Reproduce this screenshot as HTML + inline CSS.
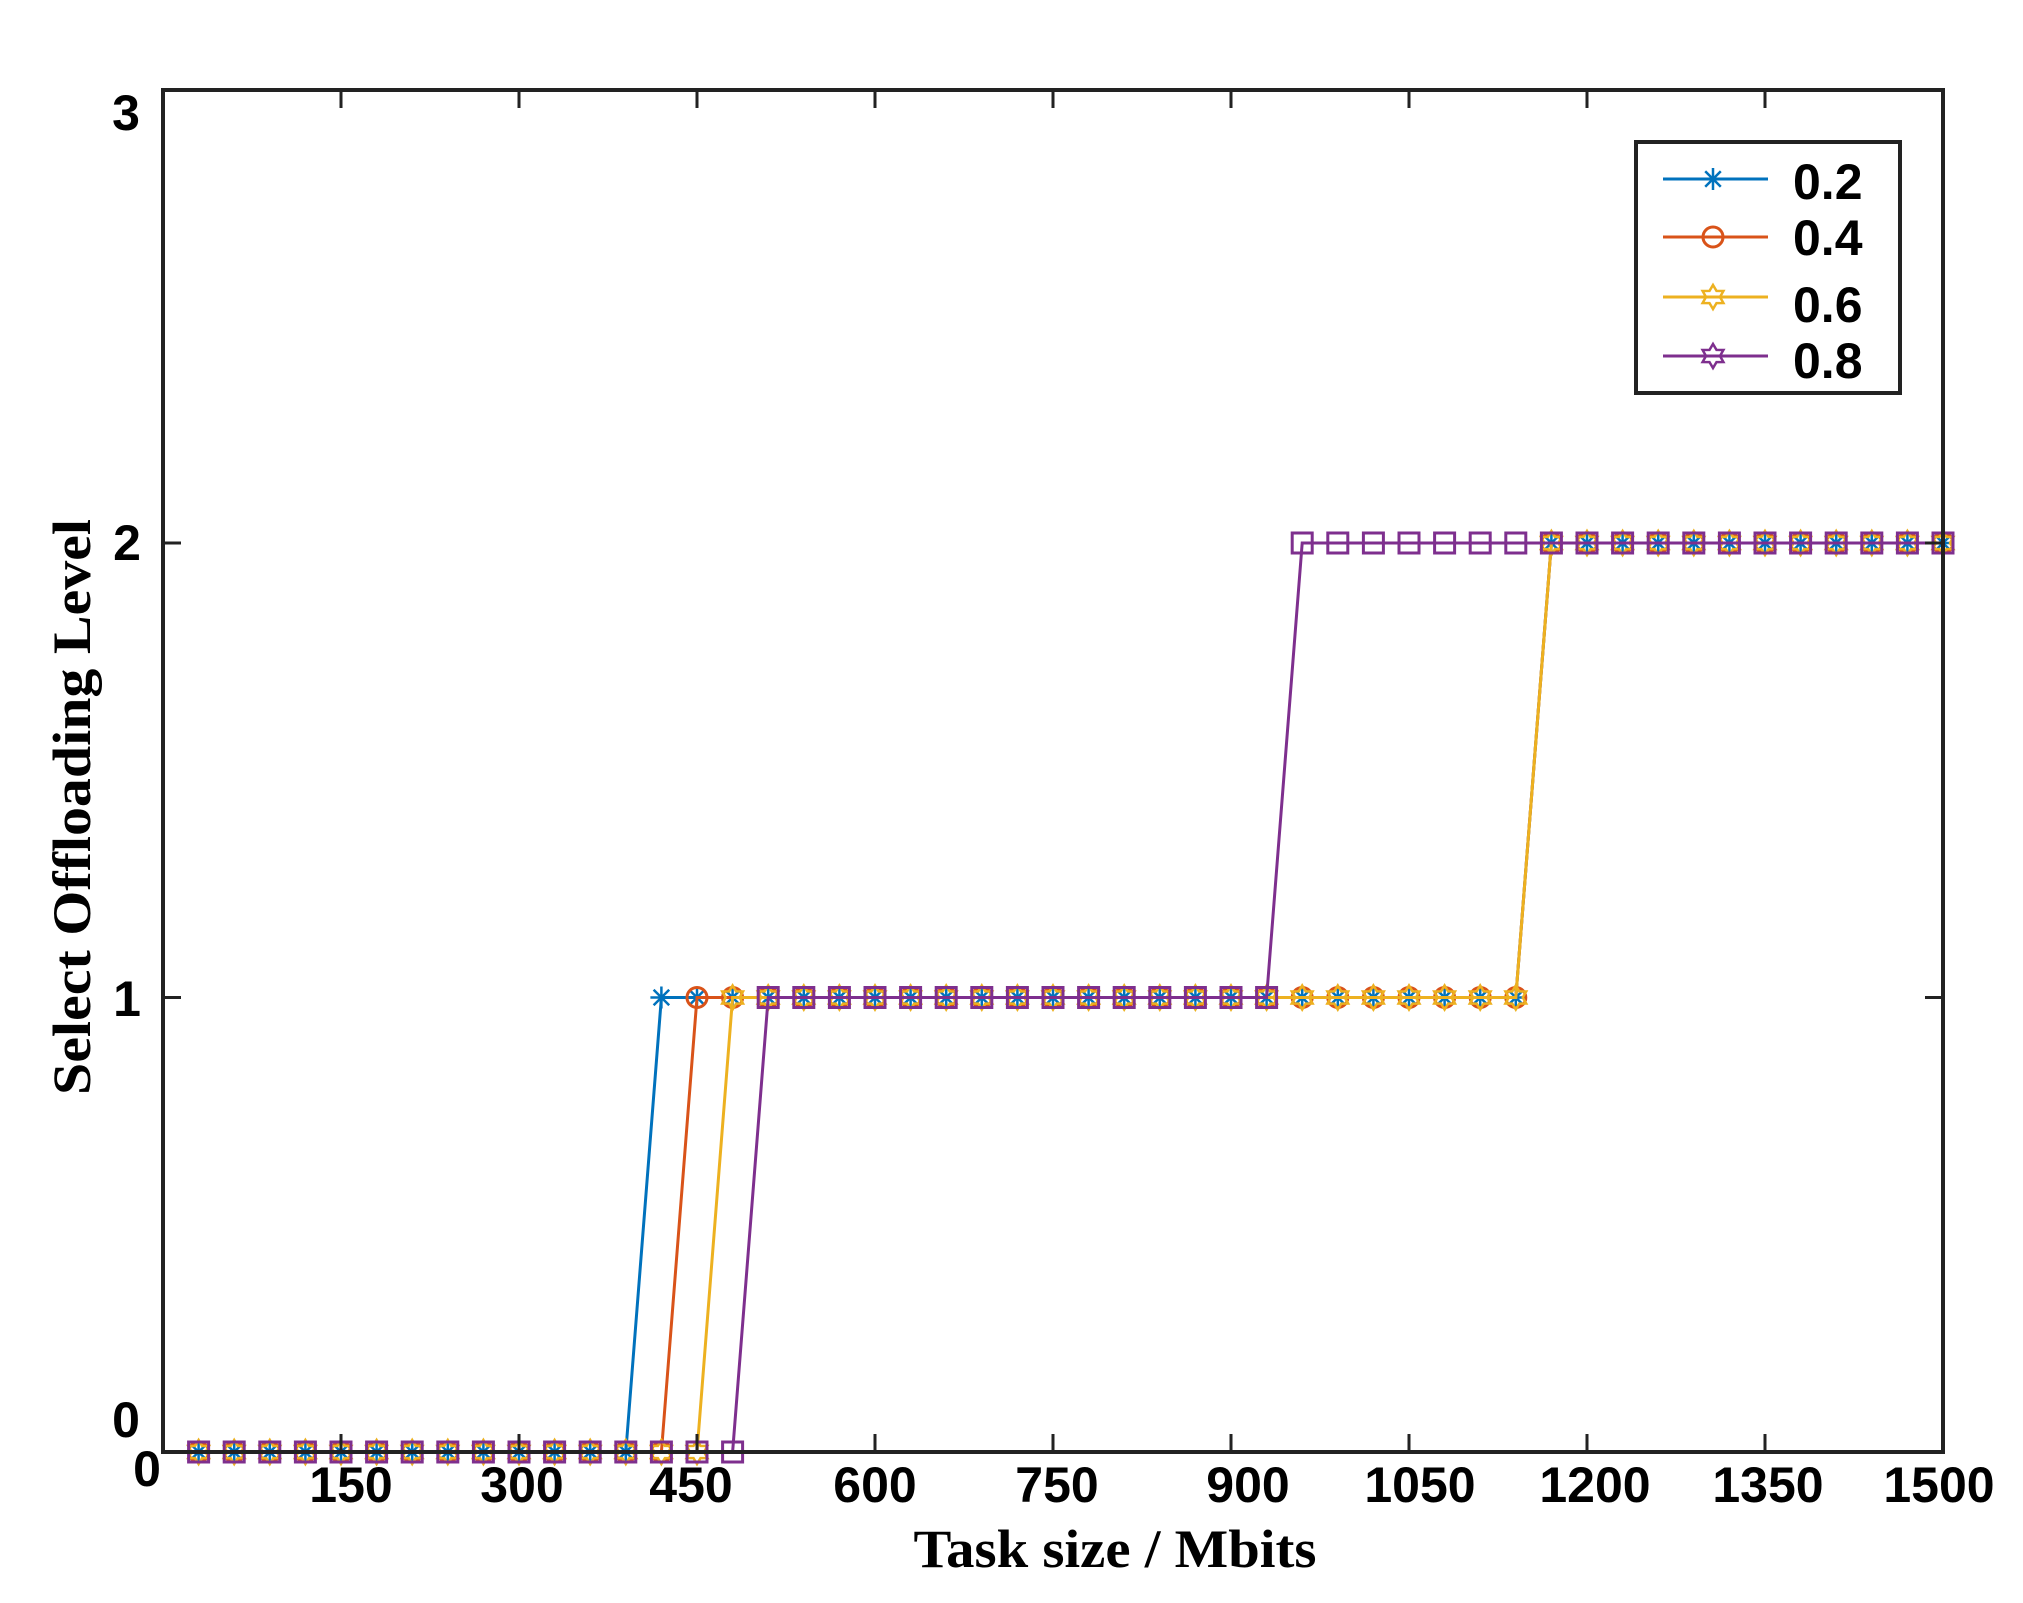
<!DOCTYPE html>
<html><head><meta charset="utf-8"><style>
html,body{margin:0;padding:0;background:#fff}
svg{display:block}
.t{font-family:"Liberation Sans",sans-serif;font-weight:bold;font-size:50px;fill:#000}
.s{font-family:"Liberation Serif",serif;font-weight:bold;font-size:54px;fill:#000}
</style></head><body>
<svg id="c" width="2023" height="1603" viewBox="0 0 2023 1603" xmlns="http://www.w3.org/2000/svg">
<rect width="2023" height="1603" fill="#fff"/>
<g id="series"></g>
<rect x="163" y="90" width="1780" height="1362" fill="none" stroke="#222" stroke-width="4"/>
<g id="ticks" stroke="#222" stroke-width="3"></g>
<g class="t" text-anchor="middle">
<text x="126" y="130">3</text>
<text x="127" y="560">2</text>
<text x="127" y="1016">1</text>
<text x="126" y="1437">0</text>
<text x="147" y="1486">0</text>
<text x="351" y="1502">150</text>
<text x="522" y="1502">300</text>
<text x="691" y="1502">450</text>
<text x="875" y="1502">600</text>
<text x="1057" y="1502">750</text>
<text x="1248" y="1502">900</text>
<text x="1420" y="1502">1050</text>
<text x="1595" y="1502">1200</text>
<text x="1768" y="1502">1350</text>
<text x="1939" y="1502">1500</text>
</g>
<text class="s" x="1115" y="1567" text-anchor="middle" textLength="403" lengthAdjust="spacingAndGlyphs">Task size / Mbits</text>
<text class="s" transform="translate(90,807) rotate(-90)" text-anchor="middle" textLength="576" lengthAdjust="spacingAndGlyphs">Select Offloading Level</text>
<rect x="1636" y="142" width="264" height="251" fill="#fff" stroke="#222" stroke-width="4"/>
<g id="leg"></g>
<g class="t">
<text x="1793" y="199">0.2</text>
<text x="1793" y="255">0.4</text>
<text x="1793" y="322">0.6</text>
<text x="1793" y="378">0.8</text>
</g>
</svg>
<script>
var NS="http://www.w3.org/2000/svg";
function X(v){return 163+v*1780/1500}
function Y(v){return 1452-v*454.5}
function el(p,n,a){var e=document.createElementNS(NS,n);for(var k in a)e.setAttribute(k,a[k]);p.appendChild(e);return e}
var tk=document.getElementById('ticks');
for(var v=150;v<1500;v+=150){el(tk,'line',{x1:X(v),y1:1452,x2:X(v),y2:1434});el(tk,'line',{x1:X(v),y1:90,x2:X(v),y2:108});}
[1,2].forEach(function(v){el(tk,'line',{x1:163,y1:Y(v),x2:181,y2:Y(v)});el(tk,'line',{x1:1943,y1:Y(v),x2:1925,y2:Y(v)});});
function lev(x,a,b){return x>=b?2:(x>=a?1:0)}
var S=[{c:'#0072BD',a:420,b:1170,m:'star'},{c:'#D95319',a:450,b:1170,m:'circ'},{c:'#EDB120',a:480,b:1170,m:'hex'},{c:'#7E2F8E',a:510,b:960,m:'sq'}];
var g=document.getElementById('series');
function marker(p,m,x,y,c){
 if(m=='star'){[0,45,90,135].forEach(function(an){var r=an*Math.PI/180;el(p,'line',{x1:x-11*Math.cos(r),y1:y-11*Math.sin(r),x2:x+11*Math.cos(r),y2:y+11*Math.sin(r),stroke:c,'stroke-width':2.5});});}
 else if(m=='circ'){el(p,'circle',{cx:x,cy:y,r:10,fill:'none',stroke:c,'stroke-width':3});}
 else if(m=='hex'){var pts=[];for(var i=0;i<12;i++){var r=(i*30-90)*Math.PI/180,R=i%2?7:12;pts.push((x+R*Math.cos(r)).toFixed(1)+','+(y+R*Math.sin(r)).toFixed(1));}el(p,'polygon',{points:pts.join(' '),fill:'none',stroke:c,'stroke-width':2.5});}
 else {el(p,'rect',{x:x-10,y:y-10,width:20,height:20,fill:'none',stroke:c,'stroke-width':3});}
}
S.forEach(function(s){var pts=[];for(var x=30;x<=1500;x+=30)pts.push([X(x),Y(lev(x,s.a,s.b))]);
 el(g,'polyline',{points:pts.map(function(p){return p[0].toFixed(1)+','+p[1].toFixed(1)}).join(' '),fill:'none',stroke:s.c,'stroke-width':3});
 pts.forEach(function(p){marker(g,s.m,p[0],p[1],s.c)});
});
var lg=document.getElementById('leg');var ly=[179,237,297,356];var lm=['star','circ','hex','hex'];
S.forEach(function(s,i){el(lg,'line',{x1:1663,y1:ly[i],x2:1768,y2:ly[i],stroke:s.c,'stroke-width':3});marker(lg,lm[i],1713,ly[i],s.c);});
</script>
</body></html>
